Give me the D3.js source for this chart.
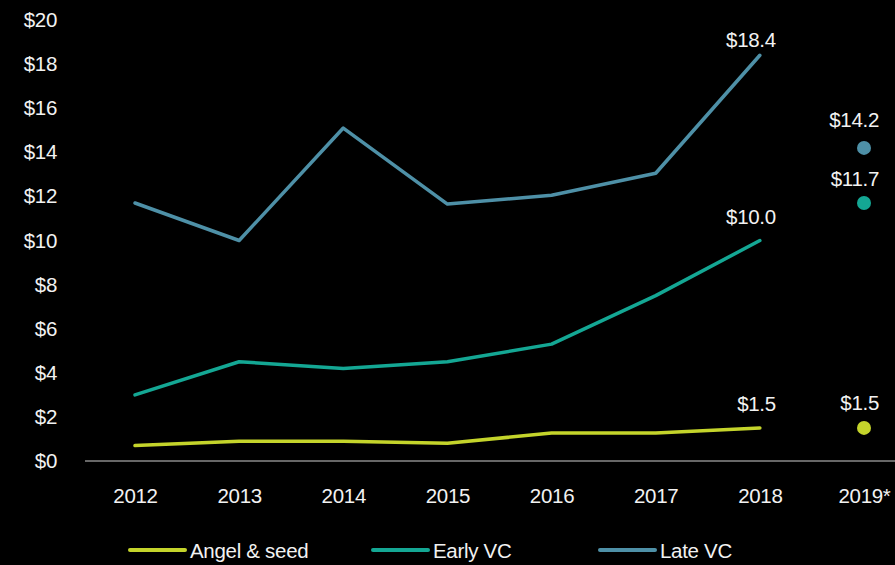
<!DOCTYPE html>
<html>
<head>
<meta charset="utf-8">
<script src="https://cdn.jsdelivr.net/npm/d3@7"></script>
<style>
  body { margin: 0; background: #000; }
  text { font-family: "Liberation Sans", Arial, sans-serif; fill: #f2f2f2; letter-spacing: -0.3px; }
</style>
</head>
<body>
<div id="chart"></div>
<script>
var years = ["2012", "2013", "2014", "2015", "2016", "2017", "2018", "2019*"];
var lineYears = ["2012", "2013", "2014", "2015", "2016", "2017", "2018"];
var angelSeed = [0.7, 0.9, 0.9, 0.8, 1.27, 1.27, 1.5];
var earlyVC = [3.0, 4.5, 4.2, 4.5, 5.3, 7.5, 10.0];
var lateVC = [11.7, 10.0, 15.1, 11.65, 12.05, 13.05, 18.4];
var proj2019 = { angel: 1.5, early: 11.7, late: 14.2 };
var yTicks = [0, 2, 4, 6, 8, 10, 12, 14, 16, 18, 20];

var svgWidth = 895;
var svgHeight = 565;
var fontSize = "20.5px";

var svg = d3
  .select("#chart")
  .append("svg")
  .attr("width", svgWidth)
  .attr("height", svgHeight);

var x = d3.scalePoint().domain(years).range([135, 864]);
var y = d3.scaleLinear().domain([0, 20]).range([461, 20]);

var series = [
  { name: "Angel & seed", values: angelSeed, last: proj2019.angel, color: "#c4d42b", endOff: 17, dotOff: 18 },
  { name: "Early VC", values: earlyVC, last: proj2019.early, color: "#14a794", endOff: 17, dotOff: 17 },
  { name: "Late VC", values: lateVC, last: proj2019.late, color: "#4e90a7", endOff: 8, dotOff: 21 },
];

// y axis labels
var yAxis = d3.axisLeft(y).tickValues(yTicks).tickSize(0).tickPadding(0)
  .tickFormat((d) => "$" + d);
svg.append("g")
  .attr("transform", "translate(57,0)")
  .call(yAxis)
  .call((g) => g.select(".domain").remove())
  .selectAll("text")
  .attr("font-size", fontSize)
  .attr("font-family", null)
  .attr("fill", null);

// baseline
svg.append("line")
  .attr("x1", 85)
  .attr("x2", 895)
  .attr("y1", y(0))
  .attr("y2", y(0))
  .attr("stroke", "#8a8a8a")
  .attr("stroke-width", 1.5);

// x axis labels
var xAxis = d3.axisBottom(x).tickSize(0).tickPadding(0);
svg.append("g")
  .attr("transform", "translate(0,503)")
  .call(xAxis)
  .call((g) => g.select(".domain").remove())
  .selectAll("text")
  .attr("dy", 0)
  .attr("font-size", fontSize)
  .attr("font-family", null)
  .attr("fill", null);

var line = d3.line()
  .x((d, i) => x(lineYears[i]))
  .y((d) => y(d));

series.forEach(function (s) {
  svg.append("path")
    .datum(s.values)
    .attr("d", line)
    .attr("fill", "none")
    .attr("stroke", s.color)
    .attr("stroke-width", 3.5)
    .attr("stroke-linecap", "round")
    .attr("stroke-linejoin", "round");

  var lastVal = s.values[s.values.length - 1];
  svg.append("text")
    .attr("x", x("2018") + 16)
    .attr("y", y(lastVal) - s.endOff)
    .attr("text-anchor", "end")
    .attr("font-size", fontSize)
    .text("$" + lastVal.toFixed(1));

  svg.append("circle")
    .attr("cx", x("2019*"))
    .attr("cy", y(s.last))
    .attr("r", 7)
    .attr("fill", s.color);

  svg.append("text")
    .attr("x", x("2019*") + 15)
    .attr("y", y(s.last) - s.dotOff)
    .attr("text-anchor", "end")
    .attr("font-size", fontSize)
    .text("$" + s.last.toFixed(1));
});

// legend
var legendX = [130, 373, 600];
var legend = svg.selectAll(".legend")
  .data(series)
  .enter()
  .append("g")
  .attr("class", "legend")
  .attr("transform", (d, i) => `translate(${legendX[i]}, 550)`);

legend.append("line")
  .attr("x1", 0)
  .attr("x2", 55)
  .attr("stroke", (d) => d.color)
  .attr("stroke-width", 4)
  .attr("stroke-linecap", "round");

legend.append("text")
  .attr("x", 60)
  .attr("y", 7.5)
  .attr("font-size", fontSize)
  .text((d) => d.name);
</script>
</body>
</html>
